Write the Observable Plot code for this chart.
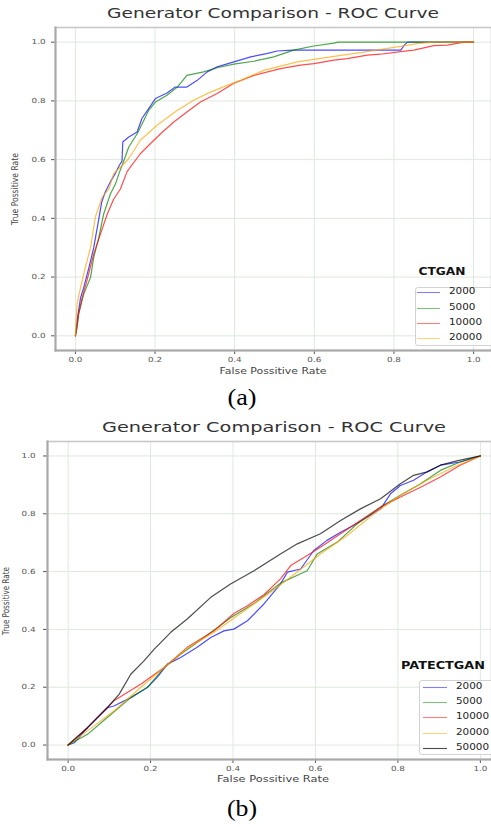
<!DOCTYPE html>
<html>
<head>
<meta charset="utf-8">
<script src="https://cdn.jsdelivr.net/npm/d3@7"></script>
<script src="https://cdn.jsdelivr.net/npm/@observablehq/plot@0.6"></script>
<style>
  html, body { margin: 0; padding: 0; background: #fff; }
  body { width: 491px; height: 827px; overflow: hidden; position: relative; font-family: "DejaVu Sans", sans-serif; }
  .abs { position: absolute; white-space: nowrap; line-height: 1; }
  .svgwrap { position: absolute; left: 0; }
</style>
</head>
<body>
<script>
// ---------------- data ----------------
const chartTitle = "Generator Comparison - ROC Curve";
const xLabel = "False Possitive Rate";
const yLabel = "True Possitive Rate";
const tickValues = [0, 0.2, 0.4, 0.6, 0.8, 1.0];
const ctganTitle = "CTGAN";
const pateTitle = "PATECTGAN";
const ctganSizes = ["2000", "5000", "10000", "20000"];
const pateSizes = ["2000", "5000", "10000", "20000", "50000"];
const seriesColors = ["blue", "green", "red", "orange", "black"];

// CTGAN ROC curves: [false positive rate, true positive rate]
const ctgan2000 = [[0,0],[0.004,0.05],[0.013,0.13],[0.021,0.165],[0.034,0.233],[0.046,0.3],[0.059,0.4],[0.066,0.455],[0.075,0.49],[0.088,0.525],[0.1,0.552],[0.11,0.58],[0.117,0.595],[0.119,0.66],[0.134,0.677],[0.155,0.694],[0.167,0.74],[0.184,0.774],[0.201,0.808],[0.23,0.827],[0.251,0.847],[0.28,0.847],[0.306,0.87],[0.331,0.899],[0.356,0.916],[0.398,0.933],[0.44,0.95],[0.48,0.961],[0.507,0.97],[0.544,0.973],[0.817,0.973],[0.826,0.99],[0.834,1],[1,1]];
const ctgan5000 = [[0,0],[0.004,0.028],[0.008,0.074],[0.021,0.142],[0.038,0.199],[0.046,0.267],[0.059,0.336],[0.071,0.415],[0.088,0.484],[0.1,0.515],[0.11,0.555],[0.12,0.59],[0.134,0.643],[0.155,0.688],[0.172,0.734],[0.184,0.768],[0.201,0.796],[0.23,0.819],[0.256,0.847],[0.28,0.887],[0.322,0.899],[0.356,0.913],[0.398,0.925],[0.448,0.935],[0.498,0.95],[0.548,0.973],[0.599,0.987],[0.649,0.997],[0.66,1],[1,1]];
const ctgan10000 = [[0,0],[0.004,0.03],[0.008,0.074],[0.017,0.131],[0.029,0.188],[0.046,0.279],[0.063,0.347],[0.08,0.415],[0.096,0.465],[0.113,0.5],[0.13,0.56],[0.163,0.62],[0.188,0.654],[0.214,0.688],[0.247,0.728],[0.28,0.762],[0.314,0.796],[0.356,0.825],[0.398,0.86],[0.448,0.887],[0.515,0.91],[0.565,0.922],[0.599,0.927],[0.649,0.939],[0.683,0.944],[0.733,0.956],[0.766,0.959],[0.817,0.968],[0.85,0.973],[0.9,0.988],[0.934,0.99],[0.976,1],[1,1]];
const ctgan20000 = [[0,0],[0.002,0.06],[0.004,0.108],[0.013,0.165],[0.025,0.233],[0.038,0.301],[0.05,0.404],[0.067,0.472],[0.084,0.5],[0.096,0.552],[0.13,0.597],[0.147,0.631],[0.163,0.666],[0.205,0.717],[0.256,0.768],[0.297,0.802],[0.339,0.83],[0.381,0.853],[0.415,0.87],[0.473,0.904],[0.557,0.933],[0.641,0.95],[0.724,0.966],[0.808,0.984],[0.859,0.995],[0.9,1],[1,1]];

// PATECTGAN ROC curves
const pate2000 = [[0,0],[0.015,0.008],[0.047,0.06],[0.095,0.129],[0.111,0.135],[0.152,0.164],[0.192,0.199],[0.216,0.234],[0.241,0.28],[0.273,0.303],[0.313,0.338],[0.346,0.372],[0.378,0.395],[0.402,0.401],[0.435,0.43],[0.475,0.488],[0.515,0.557],[0.532,0.598],[0.564,0.609],[0.596,0.673],[0.628,0.708],[0.661,0.736],[0.693,0.76],[0.725,0.788],[0.758,0.817],[0.782,0.869],[0.806,0.898],[0.838,0.916],[0.871,0.945],[0.903,0.968],[0.951,0.979],[1,1]];
const pate5000 = [[0,0],[0.047,0.037],[0.095,0.095],[0.152,0.164],[0.192,0.199],[0.233,0.268],[0.273,0.314],[0.33,0.372],[0.394,0.44],[0.451,0.49],[0.515,0.56],[0.56,0.59],[0.58,0.603],[0.604,0.661],[0.653,0.702],[0.701,0.765],[0.758,0.823],[0.806,0.864],[0.855,0.904],[0.903,0.95],[0.951,0.979],[1,1]];
const pate10000 = [[0,0],[0.047,0.06],[0.111,0.153],[0.176,0.21],[0.233,0.268],[0.289,0.338],[0.354,0.395],[0.402,0.455],[0.435,0.482],[0.475,0.52],[0.515,0.575],[0.54,0.621],[0.58,0.656],[0.612,0.684],[0.661,0.731],[0.709,0.777],[0.758,0.823],[0.806,0.858],[0.855,0.892],[0.903,0.927],[0.951,0.968],[1,1]];
const pate20000 = [[0,0],[0.047,0.049],[0.111,0.118],[0.176,0.199],[0.233,0.268],[0.289,0.335],[0.354,0.39],[0.418,0.455],[0.483,0.52],[0.548,0.59],[0.612,0.661],[0.677,0.725],[0.742,0.8],[0.806,0.864],[0.871,0.916],[0.935,0.962],[1,1]];
const pate50000 = [[0,0],[0.047,0.06],[0.095,0.129],[0.124,0.176],[0.152,0.245],[0.184,0.291],[0.209,0.332],[0.249,0.39],[0.289,0.436],[0.346,0.511],[0.394,0.557],[0.451,0.603],[0.515,0.661],[0.556,0.696],[0.612,0.731],[0.661,0.777],[0.709,0.817],[0.758,0.852],[0.806,0.904],[0.838,0.933],[0.871,0.945],[0.903,0.968],[0.943,0.983],[1,1]];

// ---------------- helpers ----------------
function addText(txt, x, y, o) {
  const el = document.createElement("div");
  el.className = "abs";
  el.textContent = txt;
  Object.assign(el.style, {
    left: x + "px", top: y + "px",
    fontSize: o.size + "px",
    fontWeight: o.weight || "normal",
    fontFamily: o.family || '"DejaVu Sans", sans-serif',
    color: o.color || "#333"
  });
  document.body.appendChild(el);
  const w = el.getBoundingClientRect().width;
  const sx = o.width ? o.width / w : (o.sx || 1);
  const sy = o.sy || 1;
  if (o.left) {
    el.style.transformOrigin = "0 50%";
    el.style.transform = `translate(0,-50%) scale(${sx},${sy})`;
  } else {
    el.style.transform = `translate(-50%,-50%) rotate(${o.rotate || 0}deg) scale(${sx},${sy})`;
  }
  return el;
}

function stretchTicks(svg, k) {
  svg.querySelectorAll("text").forEach(t => {
    const len = t.getComputedTextLength();
    t.setAttribute("textLength", (len * k).toFixed(2));
    t.setAttribute("lengthAdjust", "spacingAndGlyphs");
  });
}

function panel(seriesList, cfg) {
  const fmt = d3.format(".1f");
  const marks = [
    Plot.gridX(tickValues, {stroke: "#dde9dd", strokeOpacity: 1, strokeWidth: 1}),
    Plot.gridY(tickValues, {stroke: "#dde9dd", strokeOpacity: 1, strokeWidth: 1}),
    Plot.axisX(tickValues, {tickFormat: fmt, tickSize: 4, tickPadding: 3, fontSize: 7, color: "#555", label: null}),
    Plot.axisY(tickValues, {tickFormat: fmt, tickSize: 4, tickPadding: cfg.yPad, fontSize: 7, color: "#555", label: null}),
    ...seriesList.map((s, i) => Plot.line(s, {
      x: d => d[0], y: d => d[1],
      stroke: seriesColors[i], strokeWidth: 1.2, strokeOpacity: 0.7
    })),
    Plot.frame({stroke: "#c8c8c8", strokeWidth: 1.6}),
    Plot.frame({anchor: "left", stroke: "#a8a8a8", strokeWidth: 2}),
    Plot.frame({anchor: "bottom", stroke: "#a8a8a8", strokeWidth: 2})
  ];
  const svg = Plot.plot({
    width: 491,
    height: cfg.height,
    marginLeft: cfg.marginLeft,
    marginRight: 0,
    marginTop: cfg.marginTop,
    marginBottom: cfg.marginBottom,
    x: {domain: [-0.05, cfg.xMax], label: null},
    y: {domain: [-0.05, 1.05], label: null},
    style: {background: "transparent", fontFamily: '"DejaVu Sans", sans-serif', overflow: "visible"},
    marks
  });
  const wrap = document.createElement("div");
  wrap.className = "svgwrap";
  wrap.style.top = cfg.top + "px";
  wrap.appendChild(svg);
  document.body.appendChild(wrap);
  stretchTicks(svg, 1.25);
}

const SVGNS = "http://www.w3.org/2000/svg";
function legend(cfg) {
  const box = document.createElement("div");
  box.className = "abs";
  Object.assign(box.style, {
    left: cfg.left + "px", top: cfg.top + "px",
    width: (500 - cfg.left) + "px", height: (cfg.bottom - cfg.top) + "px",
    border: "1px solid #d2d2d2", borderRadius: "3px",
    background: "rgba(255,255,255,0.85)", boxSizing: "border-box"
  });
  document.body.appendChild(box);
  addText(cfg.title, cfg.titleX, cfg.titleY, {size: 10, weight: "bold", color: "#111", width: cfg.titleW});
  // legend swatches in one small svg overlay
  const sw = document.createElementNS(SVGNS, "svg");
  sw.setAttribute("width", 491);
  sw.setAttribute("height", 827);
  sw.style.position = "absolute";
  sw.style.left = "0px";
  sw.style.top = "0px";
  sw.style.pointerEvents = "none";
  cfg.labels.forEach((lab, i) => {
    const y = Math.round(cfg.rows[i]) + 0.5;
    const ln = document.createElementNS(SVGNS, "line");
    ln.setAttribute("x1", cfg.lineX0);
    ln.setAttribute("x2", cfg.lineX1);
    ln.setAttribute("y1", y);
    ln.setAttribute("y2", y);
    ln.setAttribute("stroke", seriesColors[i]);
    ln.setAttribute("stroke-width", 1.1);
    ln.setAttribute("stroke-opacity", i === 4 ? 0.7 : 0.5);
    sw.appendChild(ln);
  });
  document.body.appendChild(sw);
  cfg.labels.forEach((lab, i) => {
    addText(lab, cfg.textX, cfg.rows[i], {size: 8, color: "#222", sx: 1.3, left: true});
  });
}

// ---------------- panel (a) ----------------
panel([ctgan2000, ctgan5000, ctgan10000, ctgan20000],
  {top: 0, height: 380, marginTop: 27, marginBottom: 30, marginLeft: 55, xMax: 1.045, yPad: 6});
addText(chartTitle, 273, 14, {size: 13.5, color: "#333", width: 332});
addText(xLabel, 273, 372, {size: 8, color: "#444", width: 107});
addText(yLabel, 15.5, 188.5, {size: 7, color: "#444", width: 72, rotate: -90, sy: 1.35});
legend({title: ctganTitle, titleX: 442, titleY: 272, titleW: 47,
  left: 415, top: 287, bottom: 345.5, rows: [292.3, 307.8, 323, 338.3],
  lineX0: 417, lineX1: 440, textX: 448.5, labels: ctganSizes});
addText("(a)", 242, 397, {size: 24, family: '"Liberation Serif", "Times New Roman", serif', color: "#000", width: 29});

// ---------------- panel (b) ----------------
panel([pate2000, pate5000, pate10000, pate20000, pate50000],
  {top: 414, height: 375, marginTop: 27, marginBottom: 30, marginLeft: 47, xMax: 1.027, yPad: 8});
addText(chartTitle, 274, 428, {size: 13.5, color: "#333", width: 344});
addText(xLabel, 273, 780, {size: 8, color: "#444", width: 112});
addText(yLabel, 7, 600.5, {size: 7, color: "#444", width: 68, rotate: -90, sy: 1.35});
legend({title: pateTitle, titleX: 443, titleY: 666, titleW: 84,
  left: 419, top: 679.5, bottom: 755, rows: [686.7, 702.2, 717.4, 732.5, 748],
  lineX0: 423, lineX1: 447, textX: 456, labels: pateSizes});
addText("(b)", 242, 808, {size: 24, family: '"Liberation Serif", "Times New Roman", serif', color: "#000", width: 30});
</script>
</body>
</html>
